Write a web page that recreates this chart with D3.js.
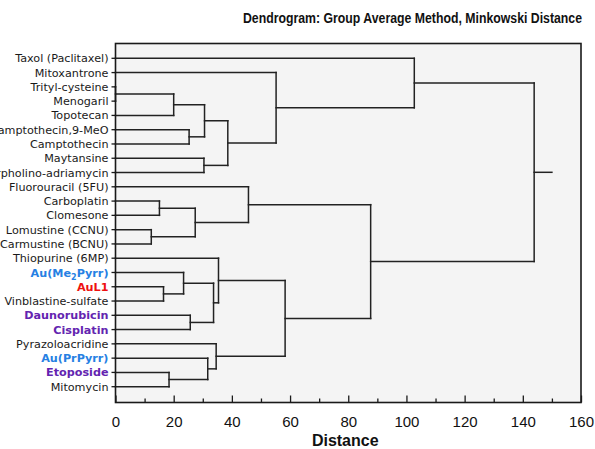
<!DOCTYPE html>
<html>
<head>
<meta charset="utf-8">
<title>Dendrogram</title>
<script src="https://cdn.jsdelivr.net/npm/d3@7"></script>
<style>
  body { margin: 0; background: #fff; }
  svg { display: block; }
  .leaf text { font-family: "DejaVu Sans", sans-serif; font-size: 11.2px; }
  .xaxis text { font-family: "Liberation Sans", Arial, sans-serif; font-size: 15px; fill: #111; }
</style>
</head>
<body>
<div id="graph"></div>
<script>
// leaves, top to bottom
var leaves = [
  'Taxol (Paclitaxel)', 'Mitoxantrone', 'Trityl-cysteine', 'Menogaril', 'Topotecan',
  'Camptothecin,9-MeO', 'Camptothecin', 'Maytansine', 'Morpholino-adriamycin',
  'Fluorouracil (5FU)', 'Carboplatin', 'Clomesone', 'Lomustine (CCNU)', 'Carmustine (BCNU)',
  'Thiopurine (6MP)', 'Au(Me2Pyrr)', 'AuL1', 'Vinblastine-sulfate', 'Daunorubicin',
  'Cisplatin', 'Pyrazoloacridine', 'Au(PrPyrr)', 'Etoposide', 'Mitomycin'
];
// which highlight group each leaf is in ('' = none)
var leafGroup = [
  '', '', '', '', '', '', '', '', '', '', '', '', '', '',
  '', 'gold', 'lead', '', 'ref', 'ref', '', 'gold', 'ref', ''
];
// linkage: [left, right, distance]; ids >= 24 are earlier merges
var mergeLeft  = [2, 24, 5, 25, 7, 27, 1, 0, 10, 12, 32, 9, 16, 15, 18, 37, 14, 22, 21, 20, 40, 35, 31];
var mergeRight = [3, 4, 6, 26, 8, 28, 29, 30, 11, 13, 33, 34, 17, 36, 19, 38, 39, 23, 41, 42, 43, 44, 45];
var mergeDist  = [0, 20.0, 25.3, 30.6, 30.4, 38.6, 55.2, 102.7, 15.1, 12.3, 27.4, 45.7,
                  16.5, 23.4, 25.7, 33.7, 35.4, 18.4, 31.7, 34.6, 58.3, 87.7, 143.9];
var rootTail = 150;
var xTicks = [0, 20, 40, 60, 80, 100, 120, 140, 160];
var xMinor = [10, 30, 50, 70, 90, 110, 130, 150];

var colors = { '': '#1a1a1a', gold: '#2680e3', lead: '#ee1111', ref: '#6324b0' };

var width = 595, height = 449
  , plotL = 115.5, plotR = 581, plotT = 43.5, plotB = 402.5;

var x = d3.scaleLinear().domain([0, 160]).range([plotL, plotR]);
var y = d3.scaleLinear().domain([0, leaves.length - 1]).range([58.3, 386.7]);

var svg = d3.select('#graph').append('svg')
    .attr('width', width)
    .attr('height', height);

svg.append('rect')
    .attr('x', plotL).attr('y', plotT)
    .attr('width', plotR - plotL).attr('height', plotB - plotT)
    .attr('fill', '#f4f4f4');

// node positions: leaves then merges
var n = leaves.length;
var nodeY = leaves.map(function (d, i) { return y(i); });
var nodeH = leaves.map(function () { return 0; });
var parentH = [];
mergeDist.forEach(function (d, i) {
  var a = mergeLeft[i], b = mergeRight[i];
  nodeY[n + i] = (nodeY[a] + nodeY[b]) / 2;
  nodeH[n + i] = d;
  parentH[a] = d;
  parentH[b] = d;
});
parentH[n + mergeDist.length - 1] = rootTail;

var segs = [];
nodeY.forEach(function (yy, id) {
  // horizontal from own height to parent height
  segs.push([x(nodeH[id]), yy, x(parentH[id]), yy]);
});
mergeDist.forEach(function (d, i) {
  segs.push([x(d), nodeY[mergeLeft[i]], x(d), nodeY[mergeRight[i]]]);
});

svg.append('g').selectAll('line')
  .data(segs)
  .enter().append('line')
    .attr('x1', function (d) { return d[0]; })
    .attr('y1', function (d) { return d[1]; })
    .attr('x2', function (d) { return d[2]; })
    .attr('y2', function (d) { return d[3]; })
    .attr('stroke', '#222')
    .attr('stroke-width', 1.5)
    .attr('stroke-linecap', 'square');

// frame
svg.append('rect')
    .attr('x', plotL).attr('y', plotT)
    .attr('width', plotR - plotL).attr('height', plotB - plotT)
    .attr('fill', 'none')
    .attr('stroke', '#1a1a1a')
    .attr('stroke-width', 1.6);

// x axis, ticks pointing inward
var xAxis = svg.append('g')
    .attr('class', 'xaxis')
    .attr('transform', 'translate(0,' + plotB + ')')
    .call(d3.axisBottom(x).tickValues(xTicks).tickSizeInner(-7).tickSizeOuter(0).tickPadding(14));
xAxis.select('.domain').remove();
xAxis.selectAll('line').attr('stroke', '#1a1a1a').attr('stroke-width', 1.3);

var xMinorAxis = svg.append('g')
    .attr('transform', 'translate(0,' + plotB + ')')
    .call(d3.axisBottom(x).tickValues(xMinor).tickSizeInner(-4).tickSizeOuter(0).tickFormat(''));
xMinorAxis.select('.domain').remove();
xMinorAxis.selectAll('line').attr('stroke', '#1a1a1a').attr('stroke-width', 1.3);

// leaf ticks and labels
var leafG = svg.append('g').attr('class', 'leaf')
  .selectAll('g')
  .data(leaves)
  .enter().append('g')
    .attr('transform', function (d, i) { return 'translate(0,' + y(i) + ')'; });

leafG.append('line')
    .attr('x1', plotL - 4).attr('x2', plotL)
    .attr('stroke', '#1a1a1a').attr('stroke-width', 1.3);

leafG.append('text')
    .attr('x', plotL - 7)
    .attr('dy', '0.36em')
    .attr('text-anchor', 'end')
    .attr('fill', function (d, i) { return colors[leafGroup[i]]; })
    .attr('font-weight', function (d, i) { return leafGroup[i] ? 'bold' : 'normal'; })
    .each(function (d) {
      var t = d3.select(this);
      var m = d.match(/^(.*?)(\d)(Pyrr.*)$/);
      if (m && d.indexOf('Me') > -1) {
        t.append('tspan').text(m[1]);
        t.append('tspan').attr('font-size', '8px').attr('dy', '3').text(m[2]);
        t.append('tspan').attr('dy', '-3').text(m[3]);
      } else {
        t.text(d);
      }
    });

svg.append('text')
    .attr('x', (plotL + plotR) / 2 - 3)
    .attr('y', 446)
    .attr('text-anchor', 'middle')
    .attr('font-family', '"Liberation Sans", Arial, sans-serif')
    .attr('font-weight', 'bold')
    .attr('font-size', '16px')
    .attr('fill', '#111')
    .text('Distance');

svg.append('text')
    .attr('x', 243)
    .attr('y', 23)
    .attr('textLength', 339)
    .attr('lengthAdjust', 'spacingAndGlyphs')
    .attr('font-family', '"Liberation Sans", Arial, sans-serif')
    .attr('font-weight', 'bold')
    .attr('font-size', '14.5px')
    .attr('fill', '#111')
    .text('Dendrogram: Group Average Method, Minkowski Distance');
</script>
</body>
</html>
